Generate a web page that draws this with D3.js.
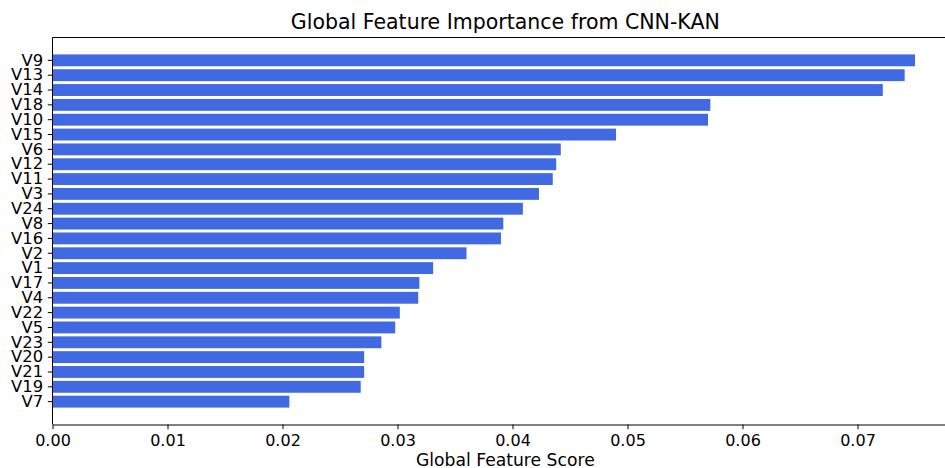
<!DOCTYPE html>
<html>
<head>
<meta charset="utf-8">
<script src="https://cdn.jsdelivr.net/npm/d3@7"></script>
<style>
  html, body { margin: 0; padding: 0; background: #fff; }
  svg { display: block; font-family: "DejaVu Sans", sans-serif; }
</style>
</head>
<body>
<svg id="chart" width="945" height="468"></svg>
<script>
// Data (top of chart first)
const features = ["V9","V13","V14","V18","V10","V15","V6","V12","V11","V3","V24","V8","V16","V2","V1","V17","V4","V22","V5","V23","V20","V21","V19","V7"];
const scores = [0.0750,0.0741,0.0722,0.0572,0.0570,0.0490,0.0442,0.0438,0.0435,0.0423,0.0409,0.0392,0.0390,0.0360,0.0331,0.0319,0.0318,0.0302,0.0298,0.0286,0.0271,0.0271,0.0268,0.0206];
const xTicks = [0.00,0.01,0.02,0.03,0.04,0.05,0.06,0.07];
const titleText = "Global Feature Importance from CNN-KAN";
const xLabelText = "Global Feature Score";

const svg = d3.select("#chart");
const mLeft = 52.5, mTop = 37.5, mBottom = 424.5;
const pxPerUnit = 11500;
const xMax = d3.max(scores) * 1.05;
const x = d3.scaleLinear().domain([0, xMax]).range([mLeft, mLeft + xMax * pxPerUnit]);
const y = d3.scaleBand().domain(features).range([mTop, mBottom]).paddingInner(0.2).paddingOuter(1.14);

// bars
svg.append("g").selectAll("rect").data(features).join("rect")
  .attr("x", x(0))
  .attr("y", d => y(d))
  .attr("width", (d, i) => x(scores[i]) - x(0))
  .attr("height", y.bandwidth())
  .attr("fill", "#4169E1");

// spines
const mRight = x(xMax);
svg.append("line").attr("x1", mLeft).attr("x2", mRight).attr("y1", mTop).attr("y2", mTop).attr("stroke", "#000").attr("stroke-width", 1);
svg.append("line").attr("x1", mLeft).attr("x2", mLeft).attr("y1", mTop).attr("y2", mBottom).attr("stroke", "#000").attr("stroke-width", 1);

// x axis
const xAxis = d3.axisBottom(x).tickValues(xTicks).tickFormat(d3.format(".2f")).tickSize(4.7).tickPadding(5).tickSizeOuter(0);
const gx = svg.append("g").attr("transform", `translate(0,${mBottom})`).call(xAxis);
gx.select(".domain").attr("stroke", "#000");
gx.selectAll("text").attr("font-size", "16px").attr("fill", "#000").attr("font-family", "DejaVu Sans");

// y axis
const yAxis = d3.axisLeft(y).tickSize(4.7).tickPadding(4.7).tickSizeOuter(0);
const gy = svg.append("g").attr("transform", `translate(${mLeft},0)`).call(yAxis);
gy.select(".domain").remove();
gy.selectAll("text").attr("font-size", "16.4px").attr("fill", "#000").attr("font-family", "DejaVu Sans");

// title
svg.append("text").attr("x", (mLeft + mRight) / 2).attr("y", 29).attr("text-anchor", "middle")
  .attr("font-size", "20.5px").attr("fill", "#000").text(titleText);

// x label
svg.append("text").attr("x", (mLeft + mRight) / 2).attr("y", 466).attr("text-anchor", "middle")
  .attr("font-size", "17.2px").attr("fill", "#000").text(xLabelText);
</script>
</body>
</html>
